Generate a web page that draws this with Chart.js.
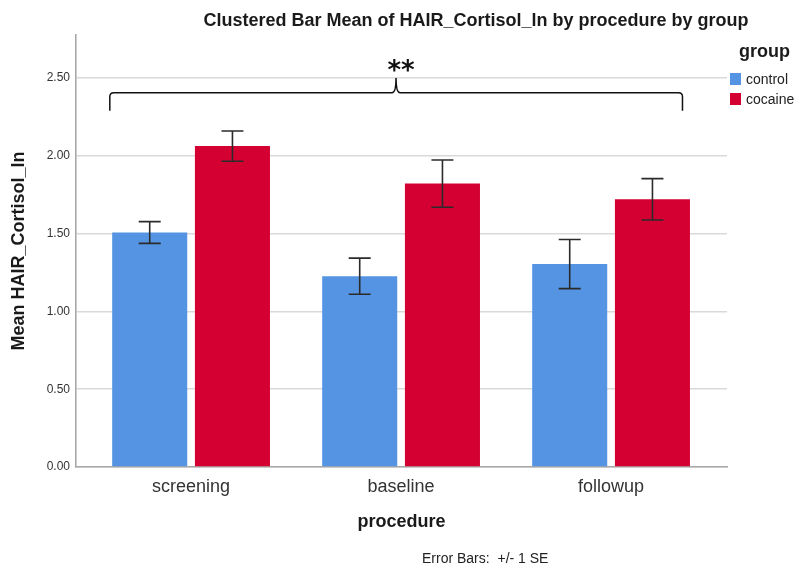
<!DOCTYPE html>
<html>
<head>
<meta charset="utf-8">
<script src="https://cdn.jsdelivr.net/npm/chart.js@4.4.1/dist/chart.umd.min.js"></script>
<style>
  html, body { margin: 0; padding: 0; background: #ffffff; }
  #wrap { width: 800px; height: 566px; position: relative; }
</style>
</head>
<body>
<div id="wrap"><canvas id="chart" width="800" height="566"></canvas></div>
<script>
// Procedure visits on the x axis
const categories = ['screening', 'baseline', 'followup'];
// Group means of log hair cortisol
const controlMeans = [1.507, 1.226, 1.304];
const cocaineMeans = [2.062, 1.821, 1.720];
// Standard errors (error bars show +/- 1 SE)
const controlSE = [0.070, 0.116, 0.158];
const cocaineSE = [0.097, 0.152, 0.133];
// Y axis tick values
const yTicks = [0, 0.5, 1.0, 1.5, 2.0, 2.5];

const groupNames = ['control', 'cocaine'];
const groupColors = ['#5594e2', '#d50032'];
const FONT = '"Liberation Sans", Arial, sans-serif';

const toPoints = arr => arr.map((v, i) => ({ x: i, y: v }));

const errorBarsPlugin = {
  id: 'errorBars',
  afterDatasetsDraw(chart) {
    const ctx = chart.ctx;
    const y = chart.scales.y;
    const seSets = [controlSE, cocaineSE];
    ctx.save();
    ctx.strokeStyle = '#2b2b2b';
    ctx.lineWidth = 1.6;
    chart.data.datasets.forEach((ds, di) => {
      const meta = chart.getDatasetMeta(di);
      meta.data.forEach((bar, i) => {
        const mean = ds.data[i].y;
        const se = seSets[di][i];
        const top = y.getPixelForValue(mean + se);
        const bot = y.getPixelForValue(mean - se);
        const cx = bar.x;
        const cap = 11;
        ctx.beginPath();
        ctx.moveTo(cx, top); ctx.lineTo(cx, bot);
        ctx.moveTo(cx - cap, top); ctx.lineTo(cx + cap, top);
        ctx.moveTo(cx - cap, bot); ctx.lineTo(cx + cap, bot);
        ctx.stroke();
      });
    });
    ctx.restore();
  }
};

// Significance brace spanning all three visits, with "**" above it
const braceFrom = -0.387, braceTo = 2.34, braceMid = 0.976;
const braceLevel = 2.405, braceLegEnd = 2.29, bracePeak = 2.50;

const annotationsPlugin = {
  id: 'annotations',
  afterDatasetsDraw(chart) {
    const ctx = chart.ctx;
    const xs = chart.scales.x, ys = chart.scales.y;
    const x0 = xs.getPixelForValue(braceFrom);
    const x1 = xs.getPixelForValue(braceTo);
    const xm = xs.getPixelForValue(braceMid);
    const yl = ys.getPixelForValue(braceLevel);
    const yb = ys.getPixelForValue(braceLegEnd);
    const yp = ys.getPixelForValue(bracePeak);
    const r = 4;
    ctx.save();
    ctx.strokeStyle = '#111';
    ctx.lineWidth = 1.5;
    ctx.beginPath();
    ctx.moveTo(x0, yb);
    ctx.lineTo(x0, yl + r);
    ctx.quadraticCurveTo(x0, yl, x0 + r, yl);
    ctx.lineTo(xm - r, yl);
    ctx.quadraticCurveTo(xm, yl, xm, yp);
    ctx.quadraticCurveTo(xm, yl, xm + r, yl);
    ctx.lineTo(x1 - r, yl);
    ctx.quadraticCurveTo(x1, yl, x1, yl + r);
    ctx.lineTo(x1, yb);
    ctx.stroke();

    ctx.fillStyle = '#111';
    ctx.font = 'bold 26px "DejaVu Sans", sans-serif';
    ctx.textAlign = 'center';
    ctx.textBaseline = 'alphabetic';
    ctx.fillText('**', xs.getPixelForValue(1.0), yp + 1);
    ctx.restore();
  },
  afterDraw(chart) {
    const ctx = chart.ctx;
    const area = chart.chartArea;
    ctx.save();
    ctx.fillStyle = '#1a1a1a';
    ctx.textBaseline = 'alphabetic';

    // Chart title
    ctx.font = 'bold 18px ' + FONT;
    ctx.textAlign = 'center';
    ctx.fillText('Clustered Bar Mean of HAIR_Cortisol_ln by procedure by group', 476, 26);

    // Axis titles
    ctx.font = 'bold 18px ' + FONT;
    ctx.fillText('procedure', (area.left + area.right) / 2, 527);
    ctx.save();
    ctx.translate(24, (area.top + area.bottom) / 2);
    ctx.rotate(-Math.PI / 2);
    ctx.font = 'bold 18px ' + FONT;
    ctx.fillText('Mean HAIR_Cortisol_ln', 0, 0);
    ctx.restore();

    // Footnote
    ctx.font = '14px ' + FONT;
    ctx.textAlign = 'left';
    ctx.fillStyle = '#222';
    ctx.fillText('Error Bars:  +/- 1 SE', 422, 563);

    // Legend
    ctx.font = 'bold 18px ' + FONT;
    ctx.fillStyle = '#1a1a1a';
    ctx.textAlign = 'left';
    ctx.fillText('group', 739, 57);
    ctx.font = '14px ' + FONT;
    chart.data.datasets.forEach((ds, i) => {
      const top = 73 + i * 20;
      ctx.fillStyle = ds.backgroundColor;
      ctx.fillRect(730, top, 11, 12);
      ctx.fillStyle = '#222';
      ctx.fillText(ds.label, 746, top + 11);
    });
    ctx.restore();
  }
};

new Chart(document.getElementById('chart'), {
  type: 'bar',
  data: {
    datasets: [
      { label: groupNames[0], data: toPoints(controlMeans), backgroundColor: groupColors[0] },
      { label: groupNames[1], data: toPoints(cocaineMeans), backgroundColor: groupColors[1] }
    ]
  },
  options: {
    responsive: false,
    animation: false,
    devicePixelRatio: 1,
    categoryPercentage: 0.788,
    barPercentage: 0.907,
    layout: { padding: { top: 35, right: 73, bottom: 69, left: 0 } },
    plugins: {
      legend: { display: false },
      title: { display: false },
      tooltip: { enabled: false }
    },
    scales: {
      x: {
        type: 'linear',
        offset: false,
        min: -0.548,
        max: 2.552,
        afterFit(scale) { scale.height = 30; },
        afterBuildTicks(scale) { scale.ticks = categories.map((c, i) => ({ value: i })); },
        grid: { display: false, drawTicks: false, offset: false },
        border: { display: true, color: '#a8a8a8', width: 1.6 },
        ticks: {
          autoSkip: false,
          maxRotation: 0,
          padding: 9,
          color: '#333',
          font: { family: FONT, size: 18 },
          callback: v => categories[v]
        }
      },
      y: {
        min: 0,
        max: 2.776,
        afterFit(scale) { scale.width = 76; },
        afterBuildTicks(scale) { scale.ticks = yTicks.map(v => ({ value: v })); },
        grid: { color: '#d9d9d9', lineWidth: 1.6, drawTicks: false },
        border: { display: true, color: '#a8a8a8', width: 1.6 },
        ticks: {
          padding: 6,
          color: '#333',
          font: { family: FONT, size: 12 },
          callback: v => Number(v).toFixed(2)
        }
      }
    }
  },
  plugins: [errorBarsPlugin, annotationsPlugin]
});
</script>
</body>
</html>
